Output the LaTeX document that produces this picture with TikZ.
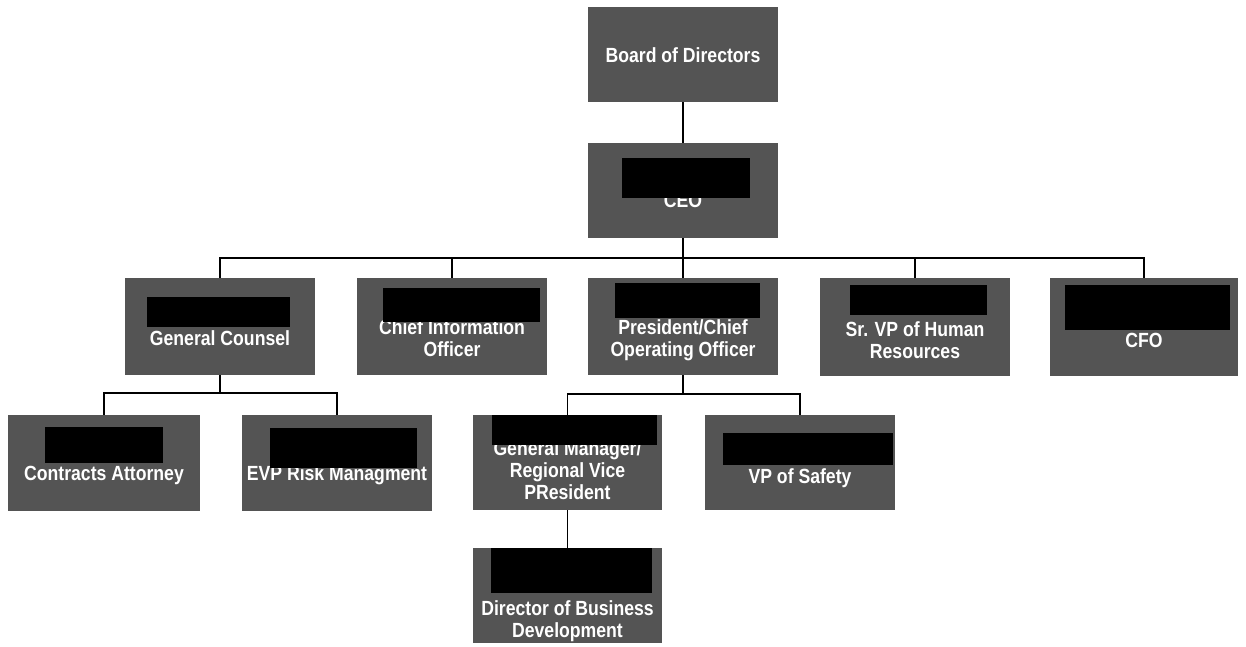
\documentclass[tikz,border=0pt]{standalone}
\usepackage{fontspec}
\setmainfont{Liberation Sans}[FakeStretch=0.86]
\begin{document}
\begin{tikzpicture}[x=1pt,y=-1pt,
  orgbox/.style={fill={rgb,255:red,84;green,84;blue,84}, draw=none, inner sep=0pt},
  orgtext/.style={text=white, font=\fontsize{20.5}{22}\selectfont\bfseries, align=center, inner sep=0pt},
  redact/.style={fill=black, draw=none, inner sep=0pt},
  link/.style={draw=black, line width=1.6pt}]
\useasboundingbox (0,0) rectangle (1246,646);
% boxes
\node[orgbox, minimum width=190pt, minimum height=95pt] (bod) at (683,54.5) {};
\node[orgbox, minimum width=190pt, minimum height=95pt] (ceo) at (683,190.5) {};
\node[orgbox, minimum width=190pt, minimum height=97pt] (gc) at (220,326.5) {};
\node[orgbox, minimum width=190pt, minimum height=97pt] (cio) at (452,326.5) {};
\node[orgbox, minimum width=190pt, minimum height=97pt] (pres) at (683,326.5) {};
\node[orgbox, minimum width=190pt, minimum height=98pt] (hr) at (915,327) {};
\node[orgbox, minimum width=188pt, minimum height=98pt] (cfo) at (1144,327) {};
\node[orgbox, minimum width=192pt, minimum height=96pt] (ca) at (104,463) {};
\node[orgbox, minimum width=190pt, minimum height=96pt] (evp) at (337,463) {};
\node[orgbox, minimum width=189pt, minimum height=95pt] (gm) at (567.5,462.5) {};
\node[orgbox, minimum width=190pt, minimum height=95pt] (vps) at (800,462.5) {};
\node[orgbox, minimum width=189pt, minimum height=95pt] (dbd) at (567.5,595.5) {};
% texts
\node[orgtext] (bod-t) at (683,55) {Board of Directors};
\node[orgtext] (ceo-t) at (683,200.5) {CEO};
\node[orgtext] (gc-t) at (220,338) {General Counsel};
\node[orgtext] (cio-t) at (452,338.5) {Chief Information\\Officer};
\node[orgtext] (pres-t) at (683,340) {President/Chief\\Operating Officer};
\node[orgtext] (hr-t) at (915,340.5) {Sr. VP of Human\\Resources};
\node[orgtext] (cfo-t) at (1144,340) {CFO};
\node[orgtext] (ca-t) at (104,475) {Contracts Attorney};
\node[orgtext] (evp-t) at (337,475.5) {EVP Risk Managment};
\node[orgtext] (gm-t) at (567.5,470.5) {General Manager/\\Regional Vice\\PResident};
\node[orgtext] (vps-t) at (800,478) {VP of Safety};
\node[orgtext] (dbd-t) at (567.5,621) {Director of Business\\Development};
% redactions
\fill[redact] (622,158) rectangle (750,198);
\fill[redact] (147,297) rectangle (290,327);
\fill[redact] (383,288) rectangle (540,322);
\fill[redact] (615,283) rectangle (760,318);
\fill[redact] (850,285) rectangle (987,315);
\fill[redact] (1065,285) rectangle (1230,330);
\fill[redact] (45,427) rectangle (163,463);
\fill[redact] (270,428) rectangle (417,468);
\fill[redact] (492,415) rectangle (657,445);
\fill[redact] (723,433) rectangle (893,465);
\fill[redact] (491,548) rectangle (652,593);
% connectors
\coordinate (busA) at (683,258);
\coordinate (busB) at (220,393);
\coordinate (busC) at (683,394);
\draw[link] (bod.south) -- (ceo.north);
\draw[link] (ceo.south) -- (busA);
\draw[link] (busA) -| (gc.north);
\draw[link] (busA) -| (cio.north);
\draw[link] (busA) -- (pres.north);
\draw[link] (busA) -| (hr.north);
\draw[link] (busA) -| (cfo.north);
\draw[link] (gc.south) -- (busB);
\draw[link] (busB) -| (ca.north);
\draw[link] (busB) -| (evp.north);
\draw[link] (pres.south) -- (busC);
\draw[link] (busC) -| (gm.north);
\draw[link] (busC) -| (vps.north);
\draw[link] (gm.south) -- (dbd.north);
\end{tikzpicture}
\end{document}
